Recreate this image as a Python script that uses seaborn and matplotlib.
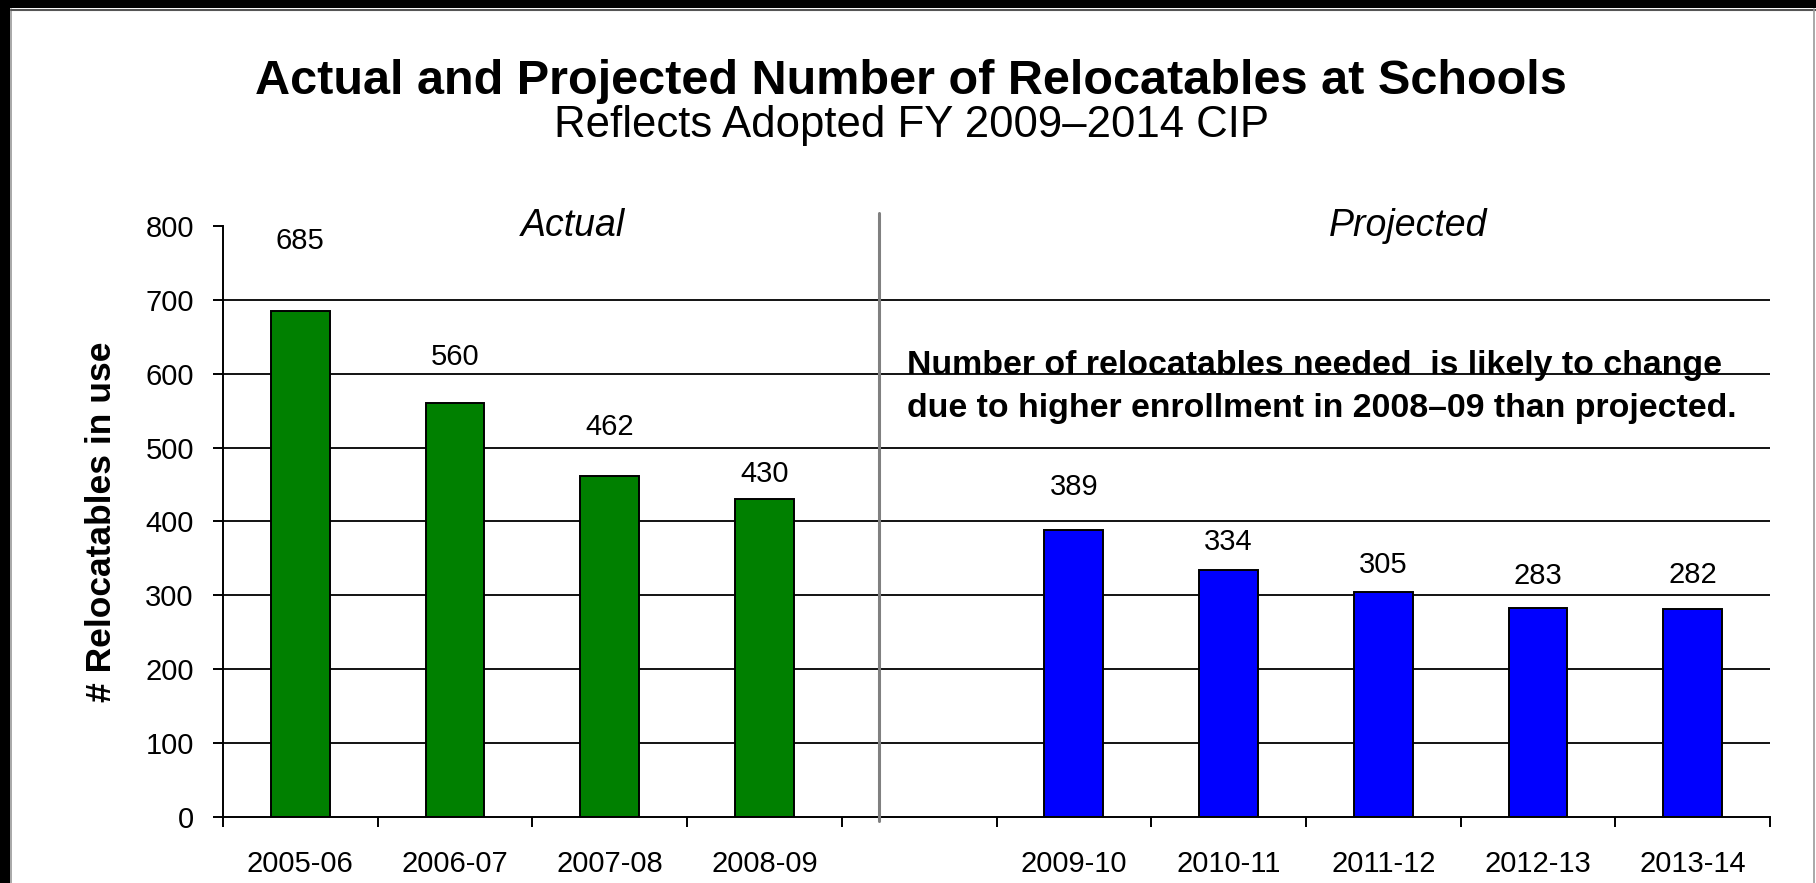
import pandas as pd
import numpy as np
import matplotlib.pyplot as plt
import seaborn as sns
from matplotlib.patches import Rectangle

# datos del grafico
periods = ['2005-06', '2006-07', '2007-08', '2008-09',
           '2009-10', '2010-11', '2011-12', '2012-13', '2013-14']
relocatables = [685, 560, 462, 430, 389, 334, 305, 283, 282]
status = ['Actual'] * 4 + ['Projected'] * 5
gap_label = ''
order = periods[:4] + [gap_label] + periods[4:]
y_ticks = [0, 100, 200, 300, 400, 500, 600, 700, 800]

# distancia de cada etiqueta sobre su barra (puntos)
label_pad = [50, 33, 35, 18, 31, 20, 19, 23, 24]

sns.set_theme(style="white")
plt.rcParams['font.family'] = ['Liberation Sans', 'DejaVu Sans']
plt.rcParams.update({'text.color': 'black', 'axes.labelcolor': 'black',
                     'xtick.color': 'black', 'ytick.color': 'black'})

df = pd.DataFrame({'Periodo': periods, 'Relocatables': relocatables, 'Estado': status})

fig = plt.figure(figsize=(18.16, 8.83), dpi=100)
ax = fig.add_axes([0.1228, 0.0748, 0.8519, 0.6693])

sns.barplot(data=df, x='Periodo', y='Relocatables', hue='Estado', order=order,
            palette={'Actual': '#008000', 'Projected': '#0000FF'}, saturation=1,
            dodge=False, width=0.38, edgecolor='black', linewidth=1.4,
            legend=False, ax=ax, zorder=2)

ax.set_xlim(-0.5, len(order) - 0.5)
ax.set_ylim(0, 800)
ax.set_yticks(y_ticks)
ax.set_yticklabels([str(v) for v in y_ticks])
ax.hlines(y_ticks[1:-1], -0.5, len(order) - 0.5, color='black', lw=1.3, zorder=1)

# ejes estilo Excel
for side in ['top', 'right']:
    ax.spines[side].set_visible(False)
for side in ['left', 'bottom']:
    ax.spines[side].set_color('black')
    ax.spines[side].set_linewidth(1.4)
ax.set_xticks(np.arange(-0.5, len(order), 1.0), minor=True)
ax.tick_params(axis='x', which='major', length=0, pad=24, labelsize=21, colors='black')
ax.tick_params(axis='x', which='minor', bottom=True, length=7, width=1.4, color='black')
ax.tick_params(axis='y', left=True, length=7, width=1.4, color='black', pad=14,
               labelsize=21, labelcolor='black')
ax.set_xlabel('')
ax.set_ylabel('# Relocatables in use', fontsize=25.5, fontweight='bold', labelpad=20)

# etiquetas de valor
bars = [p for p in ax.patches if p.get_height() > 0]
bars = sorted(bars, key=lambda p: p.get_x())
for bar, val, pad in zip(bars, relocatables, label_pad):
    ax.annotate(str(val), xy=(bar.get_x() + bar.get_width() / 2, val),
                xytext=(0, pad), textcoords='offset points',
                ha='center', va='center', fontsize=21, color='black')

# separador actual / proyectado
divider_x = 3.743
ax.plot([divider_x, divider_x], [-5, 818], color='#808080', lw=2.2,
        clip_on=False, zorder=3)

ax.text(1.76, 800, 'Actual', style='italic', fontsize=27, ha='center', va='center')
ax.text(7.16, 800, 'Projected', style='italic', fontsize=27, ha='center', va='center')

ax.text(3.92, 600, 'Number of relocatables needed  is likely to change',
        fontweight='bold', fontsize=24.4, ha='left', va='baseline', zorder=4)
ax.annotate('due to higher enrollment in 2008\u201309 than projected.', xy=(3.92, 600),
            xytext=(0, -31), textcoords='offset points',
            fontweight='bold', fontsize=24.4, ha='left', va='baseline')

fig.text(0.5017, 1 - 94 / 883, 'Actual and Projected Number of Relocatables at Schools',
         fontsize=35, fontweight='bold', ha='center', va='baseline')
fig.text(0.5017, 1 - 137 / 883, 'Reflects Adopted FY 2009\u20132014 CIP',
         fontsize=31.5, ha='center', va='baseline')

# marco negro de la captura
fig.patches.append(Rectangle((0, 0), 10 / 1816, 1, transform=fig.transFigure,
                             facecolor='black', edgecolor='none'))
fig.patches.append(Rectangle((0, 1 - 8 / 883), 1, 8 / 883, transform=fig.transFigure,
                             facecolor='black', edgecolor='none'))
fig.add_artist(plt.Line2D([11 / 1816, 11 / 1816], [0, 1 - 9 / 883], color='#999999', lw=1.2))
fig.add_artist(plt.Line2D([11 / 1816, 1], [1 - 10 / 883, 1 - 10 / 883], color='#555555', lw=1.5))
fig.add_artist(plt.Line2D([1814 / 1816, 1814 / 1816], [0, 1 - 9 / 883], color='#999999', lw=1.2))

plt.savefig('out.png', dpi=100)
